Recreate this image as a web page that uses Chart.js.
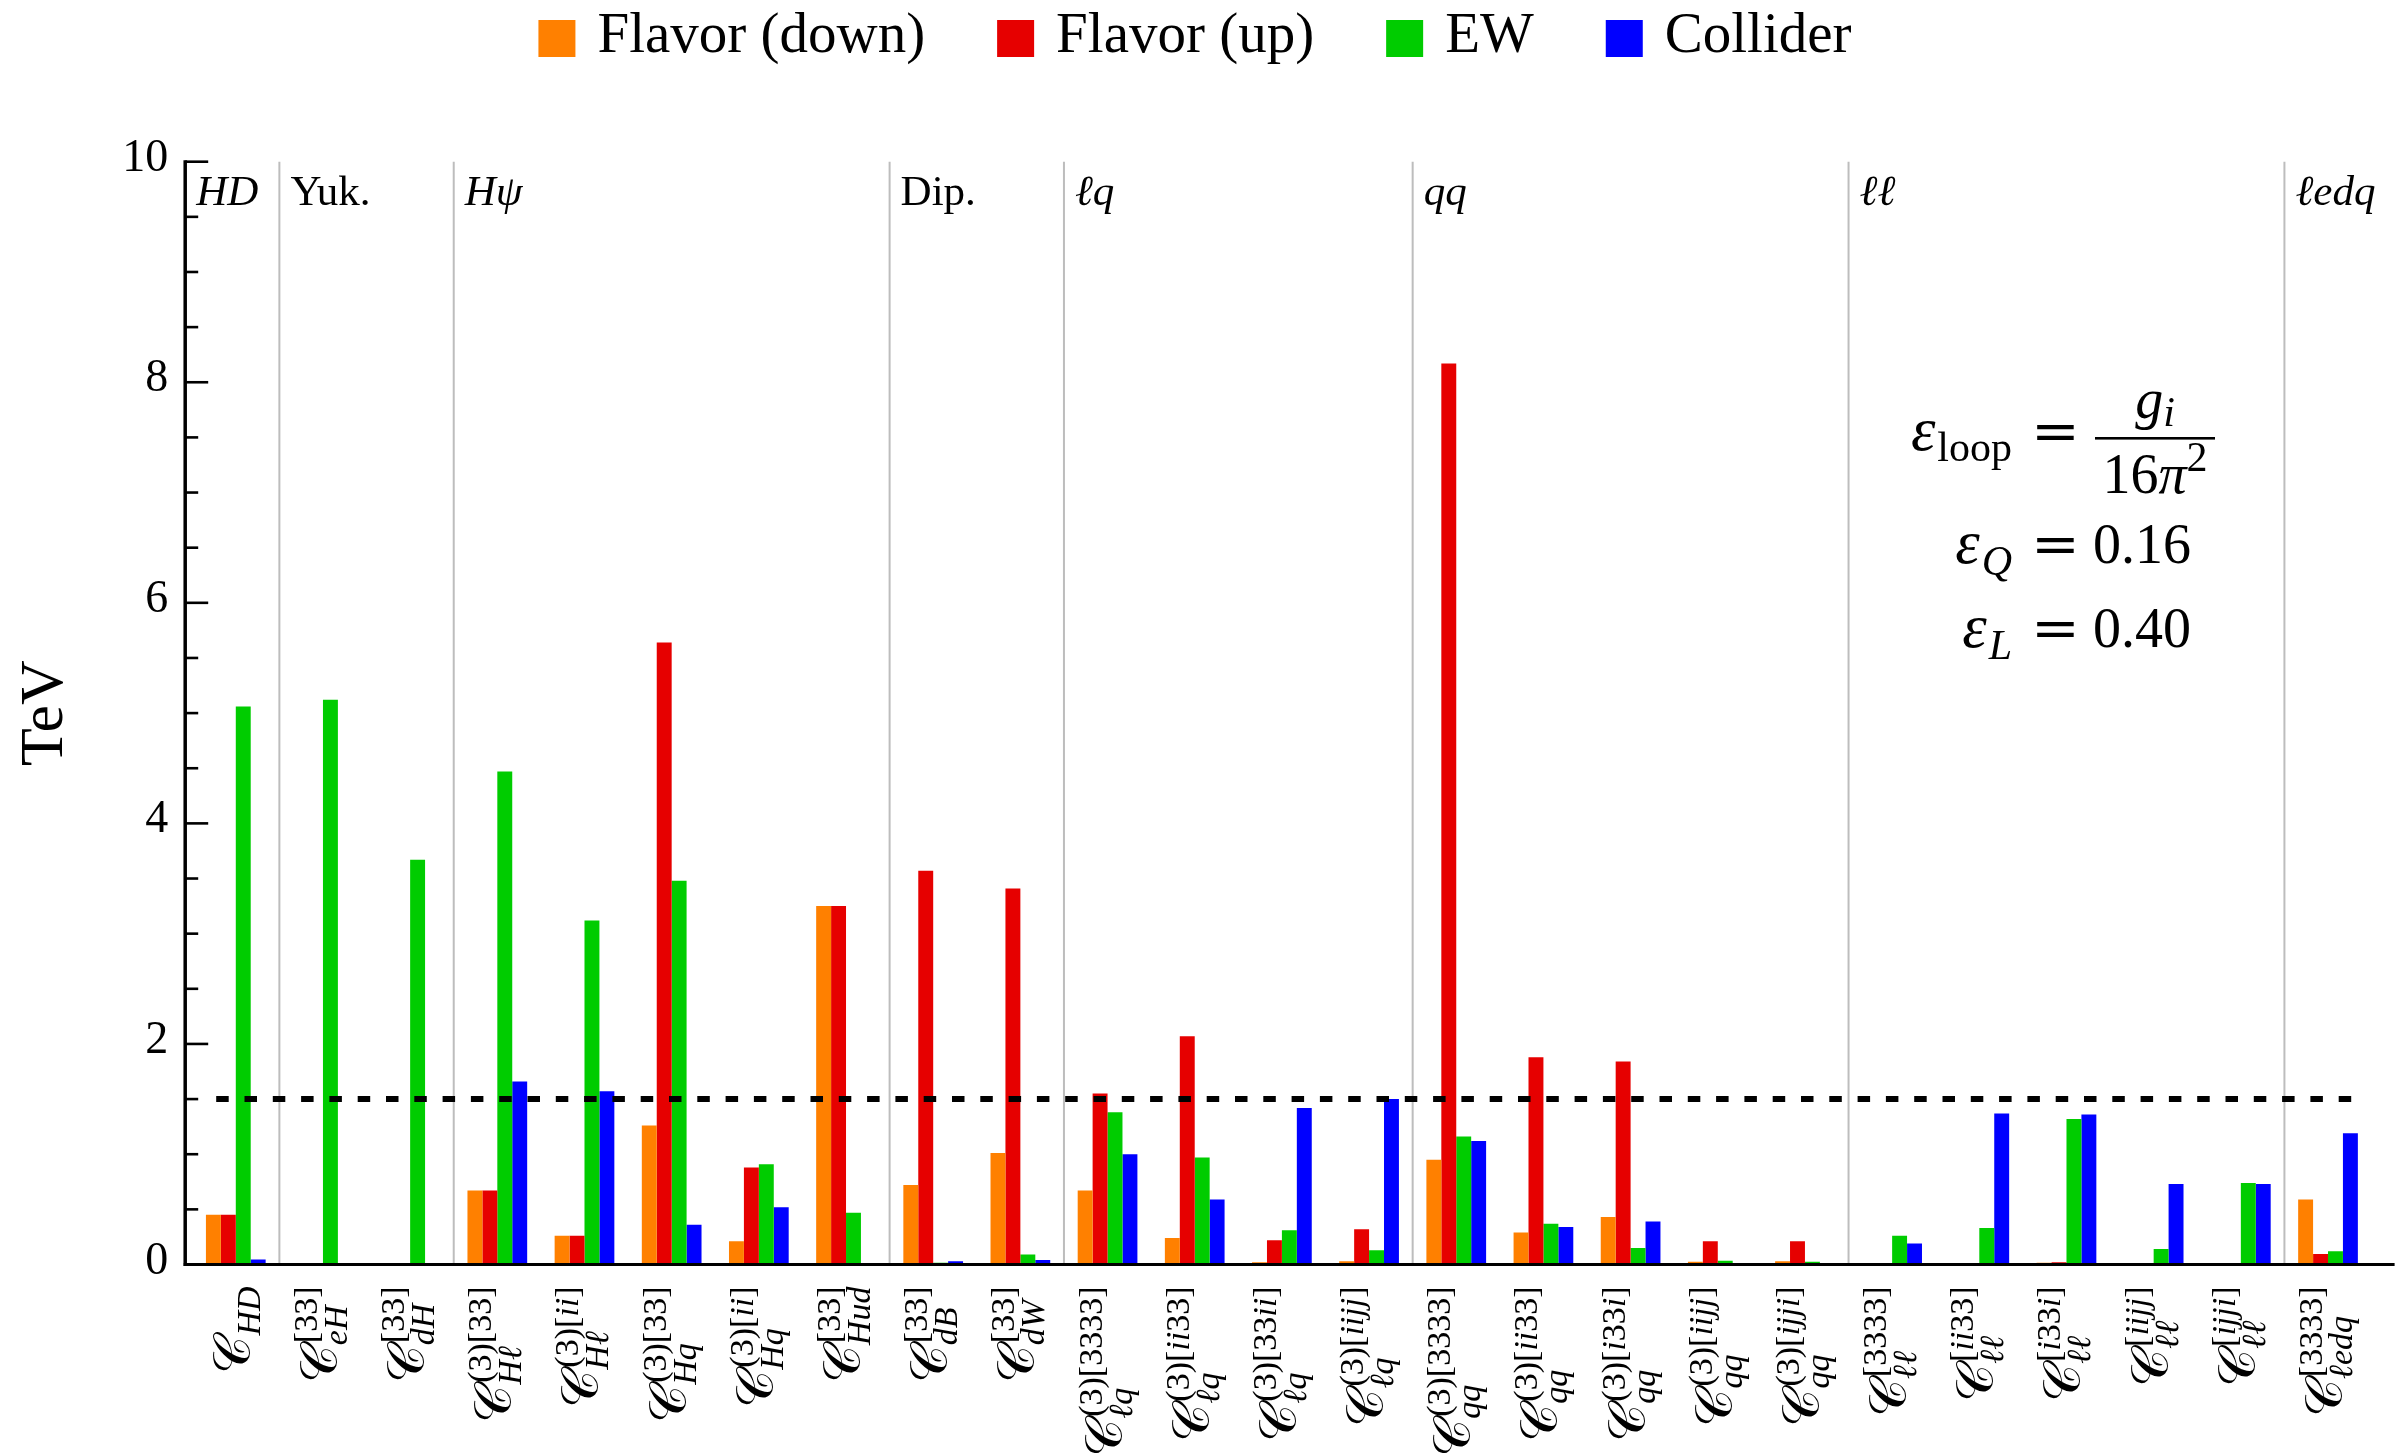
<!DOCTYPE html>
<html>
<head>
<meta charset="utf-8">
<script src="https://cdn.jsdelivr.net/npm/chart.js@4.4.1/dist/chart.umd.min.js"></script>
<style>
  html, body { margin: 0; padding: 0; background: #ffffff; }
  #wrap { width: 2402px; height: 1453px; }
</style>
</head>
<body>
<div id="wrap"><canvas id="chart" width="2402" height="1453"></canvas></div>
<script>
// Wilson coefficients (category ids), with the subscript / superscript of each 𝒞 label
const categories = [
  'HD', 'eH33', 'dH33', 'Hl3_33', 'Hl3_ii', 'Hq3_33', 'Hq3_ii', 'Hud33', 'dB33', 'dW33',
  'lq3_3333', 'lq3_ii33', 'lq3_33ii', 'lq3_iijj',
  'qq3_3333', 'qq3_ii33', 'qq3_i33i', 'qq3_iijj', 'qq3_ijji',
  'll_3333', 'll_ii33', 'll_i33i', 'll_iijj', 'll_ijji', 'ledq_3333'
];
const labelSub = [
  'HD', 'eH', 'dH', 'Hℓ', 'Hℓ', 'Hq', 'Hq', 'Hud', 'dB', 'dW',
  'ℓq', 'ℓq', 'ℓq', 'ℓq',
  'qq', 'qq', 'qq', 'qq', 'qq',
  'ℓℓ', 'ℓℓ', 'ℓℓ', 'ℓℓ', 'ℓℓ', 'ℓedq'
];
const labelSup = [
  '', '[33]', '[33]', '(3)[33]', '(3)[ii]', '(3)[33]', '(3)[ii]', '[33]', '[33]', '[33]',
  '(3)[3333]', '(3)[ii33]', '(3)[33ii]', '(3)[iijj]',
  '(3)[3333]', '(3)[ii33]', '(3)[i33i]', '(3)[iijj]', '(3)[ijji]',
  '[3333]', '[ii33]', '[i33i]', '[iijj]', '[ijji]', '[3333]'
];

// Operator classes: name and index of the first coefficient in each class
const groupNames   = ['HD', 'Yuk.', 'Hψ', 'Dip.', 'ℓq', 'qq', 'ℓℓ', 'ℓedq'];
const groupUpright = [false, true, false, true, false, false, false, false];
const groupStart   = [0, 1, 3, 8, 10, 14, 19, 24];

// Bounds in TeV
const seriesNames = ['Flavor (down)', 'Flavor (up)', 'EW', 'Collider'];
const flavorDown = [0.45, 0.005, 0.005, 0.67, 0.26, 1.26, 0.21, 3.25, 0.72, 1.01,
                    0.67, 0.24, 0.02, 0.03,
                    0.95, 0.29, 0.43, 0.025, 0.03,
                    0.01, 0.01, 0.015, 0.005, 0.005, 0.59];
const flavorUp   = [0.45, 0.005, 0.005, 0.67, 0.26, 5.64, 0.88, 3.25, 3.57, 3.41,
                    1.55, 2.07, 0.22, 0.32,
                    8.17, 1.88, 1.84, 0.21, 0.21,
                    0.01, 0.01, 0.02, 0.005, 0.005, 0.095];
const ew         = [5.06, 5.12, 3.67, 4.47, 3.12, 3.48, 0.91, 0.47, 0.015, 0.09,
                    1.38, 0.97, 0.31, 0.13,
                    1.16, 0.37, 0.15, 0.035, 0.025,
                    0.26, 0.33, 1.32, 0.14, 0.74, 0.12];
const collider   = [0.045, 0.005, 0.005, 1.66, 1.57, 0.36, 0.52, 0.005, 0.03, 0.04,
                    1.0, 0.59, 1.42, 1.5,
                    1.12, 0.34, 0.39, 0.008, 0.008,
                    0.19, 1.37, 1.36, 0.73, 0.73, 1.19];

const yMin = 0, yMax = 10, yLabelStep = 2, yMinorStep = 0.5;
const referenceScale = 1.5;   // TeV, dashed line
const epsQ = '0.16', epsL = '0.40';

const seriesColors = ['#ff8000', '#e60000', '#00cc00', '#0000ff'];
const SERIF = '"Liberation Serif", "DejaVu Serif", serif';

// ---------- text helpers ----------
function mathRuns(str, size, upright) {
  const out = [];
  for (const ch of str) {
    const italic = !upright && /[A-Za-zℓψεπ]/u.test(ch);
    const font = (italic ? 'italic ' : '') + size + 'px ' + SERIF;
    if (out.length && out[out.length - 1].font === font) out[out.length - 1].t += ch;
    else out.push({ t: ch, font });
  }
  return out;
}
function runsWidth(ctx, runs) {
  let w = 0;
  for (const r of runs) { ctx.font = r.font; w += ctx.measureText(r.t).width + (r.kern || 0); }
  return w;
}
function drawRuns(ctx, x, y, runs) {
  for (const r of runs) {
    ctx.font = r.font;
    ctx.fillText(r.t, x, y + (r.dy || 0));
    x += ctx.measureText(r.t).width + (r.kern || 0);
  }
  return x;
}
// a wide "=" sign, as in a math typeface
function drawEquals(ctx, x, y) {
  ctx.save();
  ctx.translate(x, y);
  ctx.scale(1.08, 1);
  ctx.font = '54px "DejaVu Serif", serif';
  ctx.fillText('=', 0, 0);
  ctx.restore();
}

// ---------- decorations drawn around the bars ----------
const decor = {
  id: 'decor',
  beforeDatasetsDraw(chart) {
    const { ctx, chartArea: a, scales: { x } } = chart;
    ctx.save();
    ctx.strokeStyle = '#bdbdbd';
    ctx.lineWidth = 2;
    for (let g = 1; g < groupStart.length; g++) {
      const i = groupStart[g];
      const px = (x.getPixelForValue(i - 1) + x.getPixelForValue(i)) / 2;
      ctx.beginPath(); ctx.moveTo(px, a.top); ctx.lineTo(px, a.bottom); ctx.stroke();
    }
    ctx.restore();
  },
  afterDatasetsDraw(chart) {
    const { ctx, chartArea: a, scales: { x, y } } = chart;
    ctx.save();
    // reference line
    const yr = y.getPixelForValue(referenceScale);
    ctx.strokeStyle = '#000'; ctx.lineWidth = 6; ctx.setLineDash([12.5, 15.8]);
    ctx.beginPath(); ctx.moveTo(a.left + 24, yr); ctx.lineTo(a.right - 8, yr); ctx.stroke();
    ctx.setLineDash([]);
    // axes
    const ax = a.left - 7;
    ctx.lineWidth = 3.5;
    ctx.beginPath(); ctx.moveTo(ax, y.getPixelForValue(yMax) - 1.5); ctx.lineTo(ax, a.bottom + 1.5); ctx.stroke();
    ctx.lineWidth = 3;
    ctx.beginPath(); ctx.moveTo(ax - 1.5, a.bottom); ctx.lineTo(a.right + 23, a.bottom); ctx.stroke();
    // inward ticks
    ctx.lineWidth = 2.6;
    for (let v = yMin; v <= yMax + 1e-9; v += yMinorStep) {
      const major = Math.abs(v / yLabelStep - Math.round(v / yLabelStep)) < 1e-9;
      if (v === yMin) continue;
      const py = y.getPixelForValue(v);
      ctx.beginPath(); ctx.moveTo(ax, py); ctx.lineTo(ax + (major ? 23 : 13), py); ctx.stroke();
    }
    ctx.restore();
  },
  afterDraw(chart) {
    const { ctx, chartArea: a, scales: { x, y } } = chart;
    ctx.save();
    ctx.fillStyle = '#000';
    ctx.textBaseline = 'alphabetic';
    ctx.textAlign = 'left';

    // legend
    const lf = '57px ' + SERIF;
    ctx.font = lf;
    const box = 37, gap = 22, itemGap = 72;
    const items = chart.data.datasets.map(d => ({ label: d.label, color: d.backgroundColor }));
    const widths = items.map(it => ctx.measureText(it.label).width);
    let total = widths.reduce((s, w) => s + box + gap + w, 0) + itemGap * (items.length - 1);
    let lx = 1195 - total / 2;
    items.forEach((it, k) => {
      ctx.fillStyle = it.color;
      ctx.fillRect(lx, 20, box, box);
      ctx.fillStyle = '#000';
      ctx.font = lf;
      ctx.fillText(it.label, lx + box + gap, 52);
      lx += box + gap + widths[k] + itemGap;
    });

    // class names
    groupNames.forEach((name, g) => {
      const i = groupStart[g];
      const left = g === 0 ? a.left - 7 : (x.getPixelForValue(i - 1) + x.getPixelForValue(i)) / 2;
      drawRuns(ctx, left + 11, 205, mathRuns(name, 43, groupUpright[g]));
    });

    // coefficient labels, rotated
    const mainFont = '52px ' + SERIF;
    const scr = 34;
    const yTop = a.bottom + 22;
    categories.forEach((id, i) => {
      const cx = x.getPixelForValue(i);
      const sub = mathRuns(labelSub[i], scr, false);
      const sup = mathRuns(labelSup[i], scr, false);
      ctx.font = mainFont;
      const wC = ctx.measureText('𝒞').width;
      const wSub = runsWidth(ctx, sub), wSup = runsWidth(ctx, sup);
      const L = wC + Math.max(wSub, wSup + 2);
      ctx.save();
      ctx.translate(cx + 14, yTop);
      ctx.rotate(-Math.PI / 2);
      ctx.font = mainFont;
      ctx.fillText('𝒞', -L, 0);
      drawRuns(ctx, -L + wC, 10, sub);
      drawRuns(ctx, -L + wC + 2, -20, sup);
      ctx.restore();
    });

    // loop-factor annotation
    const eps = 62, small = 42;
    const eqX = 2031, lhsRight = 2012, rhsLeft = 2093;
    const lines = [
      { base: 450, lhs: [{ t: 'ε', font: 'italic ' + eps + 'px ' + SERIF, kern: 2 }, { t: 'loop', font: small + 'px ' + SERIF, dy: 11 }] },
      { base: 563, lhs: [{ t: 'ε', font: 'italic ' + eps + 'px ' + SERIF, kern: 2 }, { t: 'Q', font: 'italic ' + small + 'px ' + SERIF, dy: 12 }], rhs: epsQ },
      { base: 647, lhs: [{ t: 'ε', font: 'italic ' + eps + 'px ' + SERIF, kern: 2 }, { t: 'L', font: 'italic ' + small + 'px ' + SERIF, dy: 12 }], rhs: epsL }
    ];
    lines.forEach(ln => {
      drawRuns(ctx, lhsRight - runsWidth(ctx, ln.lhs), ln.base, ln.lhs);
      drawEquals(ctx, eqX, ln.base);
      if (ln.rhs) { ctx.font = '56px ' + SERIF; ctx.fillText(ln.rhs, rhsLeft, ln.base); }
    });
    // fraction g_i / 16π²
    const fx0 = 2095, fx1 = 2215, fc = (fx0 + fx1) / 2;
    ctx.fillRect(fx0, 437, fx1 - fx0, 2.6);
    const num = [{ t: 'g', font: 'italic 56px ' + SERIF }, { t: 'i', font: 'italic ' + small + 'px ' + SERIF, dy: 8 }];
    drawRuns(ctx, fc - runsWidth(ctx, num) / 2, 418, num);
    const den = [{ t: '16', font: '56px ' + SERIF }, { t: 'π', font: 'italic 56px ' + SERIF }, { t: '2', font: small + 'px ' + SERIF, dy: -22 }];
    drawRuns(ctx, fc - runsWidth(ctx, den) / 2, 493, den);

    ctx.restore();
  }
};

const series = [flavorDown, flavorUp, ew, collider];
new Chart(document.getElementById('chart'), {
  type: 'bar',
  data: {
    labels: categories,
    datasets: series.map((vals, k) => ({
      label: seriesNames[k],
      data: vals,
      backgroundColor: seriesColors[k],
      borderWidth: 0,
      barPercentage: 1.0,
      categoryPercentage: 0.685
    }))
  },
  options: {
    responsive: false,
    animation: false,
    devicePixelRatio: 1,
    layout: { padding: { top: 161.7, right: 30.4, bottom: 188.5, left: 0 } },
    plugins: { legend: { display: false }, tooltip: { enabled: false } },
    scales: {
      x: { type: 'category', display: false, offset: true },
      y: {
        min: yMin, max: yMax,
        ticks: {
          stepSize: yLabelStep, padding: 24, labelOffset: -3, color: '#000',
          font: { family: 'Liberation Serif', size: 46 }
        },
        grid: { display: false, drawTicks: false },
        border: { display: false },
        title: {
          display: true, text: 'TeV', color: '#000',
          font: { family: 'Liberation Serif', size: 62 },
          padding: { top: 9, bottom: 0 }
        },
        afterFit(scale) { scale.width = 192.2; }
      }
    }
  },
  plugins: [decor]
});
</script>
</body>
</html>
